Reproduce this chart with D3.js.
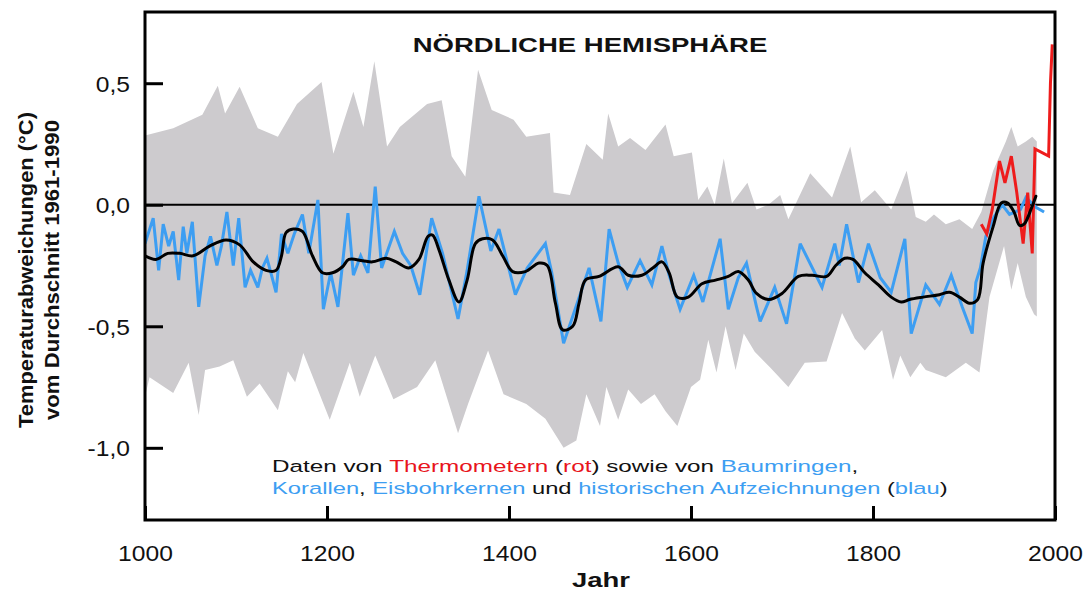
<!DOCTYPE html>
<html>
<head>
<meta charset="utf-8">
<script src="https://cdn.jsdelivr.net/npm/d3@7"></script>
<style>
  html, body { margin: 0; padding: 0; background: #fff; }
  svg { display: block; }
  text { font-family: "Liberation Sans", Arial, Helvetica, sans-serif; }
</style>
</head>
<body>
<svg id="chart" width="1091" height="590"></svg>
<script>
// ---- data ----------------------------------------------------------------
// Proxy reconstruction (tree rings, corals, ice cores, historical records)
const proxyYears = [1000,1009,1015,1020,1026,1031,1037,1042,1046,1052,1059,1066,1072,1079,1084,1090,1097,1103,1110,1116,1124,1129,1134,1139,1144,1150,1157,1164,1173,1180,1190,1196,1204,1212,1223,1229,1237,1245,1253,1260,1274,1283,1292,1302,1315,1327,1344,1354,1367,1380,1389,1407,1420,1440,1447,1460,1470,1488,1501,1510,1520,1530,1544,1557,1568,1576,1588,1603,1613,1632,1641,1652,1661,1672,1676,1692,1705,1720,1732,1744,1758,1763,1771,1784,1795,1808,1820,1835,1842,1858,1873,1886,1898,1909,1913,1918,1924,1933,1942,1950,1962,1968,1979,1988];
const proxyValues = [-0.16,-0.055,-0.27,-0.08,-0.17,-0.11,-0.31,-0.09,-0.2,-0.07,-0.42,-0.21,-0.13,-0.25,-0.17,-0.03,-0.25,-0.055,-0.34,-0.27,-0.34,-0.26,-0.22,-0.29,-0.36,-0.12,-0.2,-0.12,-0.04,-0.2,0.02,-0.43,-0.28,-0.42,-0.035,-0.29,-0.21,-0.28,0.075,-0.26,-0.11,-0.2,-0.25,-0.37,-0.055,-0.2,-0.47,-0.27,0.035,-0.19,-0.1,-0.37,-0.26,-0.16,-0.28,-0.57,-0.46,-0.26,-0.48,-0.1,-0.24,-0.34,-0.23,-0.33,-0.17,-0.29,-0.43,-0.29,-0.4,-0.14,-0.43,-0.3,-0.24,-0.42,-0.48,-0.34,-0.49,-0.16,-0.25,-0.34,-0.16,-0.25,-0.08,-0.32,-0.16,-0.3,-0.36,-0.14,-0.53,-0.33,-0.41,-0.29,-0.42,-0.53,-0.32,-0.26,-0.13,-0.05,0.0,-0.04,-0.02,0.03,-0.01,-0.03];

// Smoothed curve of the reconstruction
const smoothYears = [1000,1012,1025,1038,1053,1071,1089,1104,1119,1133,1144,1150,1155,1163,1173,1184,1195,1206,1217,1224,1239,1250,1265,1276,1290,1301,1311,1316,1323,1334,1345,1354,1363,1371,1382,1393,1404,1418,1433,1442,1451,1459,1470,1477,1484,1499,1520,1531,1546,1558,1568,1576,1585,1597,1612,1627,1641,1652,1663,1672,1685,1700,1718,1733,1749,1759,1769,1778,1791,1806,1820,1831,1840,1855,1873,1884,1895,1906,1915,1921,1932,1941,1948,1955,1961,1966,1974,1979];
const smoothValues = [-0.21,-0.225,-0.2,-0.2,-0.21,-0.17,-0.145,-0.165,-0.235,-0.27,-0.27,-0.21,-0.115,-0.1,-0.11,-0.21,-0.28,-0.28,-0.255,-0.225,-0.23,-0.235,-0.22,-0.235,-0.26,-0.225,-0.13,-0.125,-0.185,-0.31,-0.4,-0.31,-0.16,-0.14,-0.145,-0.21,-0.275,-0.275,-0.24,-0.25,-0.405,-0.515,-0.5,-0.405,-0.31,-0.295,-0.255,-0.29,-0.29,-0.26,-0.235,-0.28,-0.38,-0.38,-0.325,-0.31,-0.295,-0.275,-0.31,-0.365,-0.39,-0.365,-0.295,-0.29,-0.295,-0.25,-0.22,-0.225,-0.28,-0.33,-0.38,-0.4,-0.39,-0.38,-0.37,-0.36,-0.38,-0.405,-0.39,-0.24,-0.09,0.007,0.007,-0.03,-0.085,-0.08,-0.015,0.035];

// Instrumental (thermometer) record
const thermoYears = [1919,1925,1931,1939,1945,1952,1958,1965,1970,1975,1978,1993,1995,1997];
const thermoValues = [-0.08,-0.12,-0.02,0.18,0.09,0.2,0.05,-0.16,0.05,-0.2,0.23,0.2,0.5,0.66];

// Uncertainty range: upper and lower limits
const bandUpperYears = [1000,1031,1063,1080,1088,1104,1124,1146,1167,1194,1207,1229,1240,1252,1266,1280,1310,1326,1337,1352,1366,1381,1405,1419,1445,1449,1467,1485,1503,1509,1520,1533,1550,1572,1581,1601,1608,1618,1626,1636,1645,1662,1672,1685,1698,1707,1731,1755,1775,1787,1802,1820,1837,1847,1858,1867,1880,1895,1909,1919,1932,1946,1952,1959,1968,1975,1980];
const bandUpper = [0.285,0.315,0.37,0.49,0.375,0.485,0.315,0.28,0.415,0.505,0.21,0.465,0.32,0.59,0.24,0.32,0.415,0.43,0.2,0.115,0.555,0.39,0.35,0.28,0.295,0.05,0.04,0.25,0.185,0.375,0.24,0.275,0.225,0.33,0.2,0.215,0.02,0.075,0.0,0.19,0.006,0.09,-0.02,0.0,0.04,-0.06,0.13,0.03,0.24,0.01,0.06,-0.02,0.14,-0.05,-0.07,-0.04,-0.08,-0.06,-0.1,-0.03,0.14,0.26,0.32,0.24,0.26,0.28,0.26];
const bandLowerYears = [1000,1005,1031,1048,1059,1066,1082,1097,1112,1126,1146,1157,1165,1174,1203,1225,1236,1253,1273,1299,1319,1344,1355,1377,1394,1419,1440,1460,1474,1485,1500,1507,1520,1531,1545,1560,1572,1585,1600,1610,1619,1628,1638,1649,1658,1670,1687,1707,1725,1749,1766,1780,1791,1810,1822,1830,1841,1852,1858,1880,1902,1917,1928,1944,1952,1959,1968,1977,1980];
const bandLower = [-0.79,-0.71,-0.775,-0.65,-0.865,-0.68,-0.665,-0.64,-0.79,-0.735,-0.845,-0.685,-0.73,-0.61,-0.885,-0.65,-0.79,-0.62,-0.8,-0.75,-0.64,-0.94,-0.82,-0.6,-0.78,-0.82,-0.88,-1.0,-0.97,-0.78,-0.91,-0.75,-0.885,-0.76,-0.82,-0.78,-0.85,-0.91,-0.75,-0.72,-0.555,-0.69,-0.5,-0.68,-0.53,-0.605,-0.67,-0.75,-0.65,-0.645,-0.445,-0.55,-0.6,-0.515,-0.72,-0.62,-0.71,-0.65,-0.68,-0.71,-0.65,-0.69,-0.38,-0.17,-0.35,-0.24,-0.38,-0.45,-0.46];

// Axis ticks
const xTicks = [1000, 1200, 1400, 1600, 1800, 2000];
const yTicks = [0.5, 0.0, -0.5, -1.0];
const yTickLabels = ["0,5", "0,0", "-0,5", "-1,0"];

// ---- layout ----------------------------------------------------------------
const svg = d3.select("#chart");
const plot = { left: 145, right: 1055, top: 12, bottom: 520 };

const x = d3.scaleLinear().domain([1000, 2000]).range([plot.left, plot.right]);
const y = d3.scaleLinear().domain([-1.297, 0.793]).range([plot.bottom, plot.top]);

const zip = (xs, vs) => xs.map((yr, i) => [yr, vs[i]]);

svg.append("defs").append("clipPath").attr("id", "plotClip")
  .append("rect")
  .attr("x", plot.left).attr("y", plot.top)
  .attr("width", plot.right - plot.left).attr("height", plot.bottom - plot.top);

const g = svg.append("g").attr("clip-path", "url(#plotClip)");

// uncertainty band as a closed outline: upper limit forward, lower limit back
const bandPts = zip(bandUpperYears, bandUpper).concat(zip(bandLowerYears, bandLower).reverse());
const outline = d3.line().x(d => x(d[0])).y(d => y(d[1]));
g.append("path")
  .attr("d", outline(bandPts) + "Z")
  .attr("fill", "#cdcbce")
  .attr("stroke", "none");

// zero reference line
g.append("line")
  .attr("x1", plot.left).attr("x2", plot.right)
  .attr("y1", y(0)).attr("y2", y(0))
  .attr("stroke", "#000").attr("stroke-width", 2);

const polyline = d3.line().x(d => x(d[0])).y(d => y(d[1])).curve(d3.curveLinear);

g.append("path")
  .attr("d", polyline(zip(proxyYears, proxyValues)))
  .attr("fill", "none").attr("stroke", "#3d9ef2")
  .attr("stroke-width", 3).attr("stroke-linejoin", "miter").attr("stroke-miterlimit", 3);

g.append("path")
  .attr("d", polyline(zip(thermoYears, thermoValues)))
  .attr("fill", "none").attr("stroke", "#ee1c1c")
  .attr("stroke-width", 3).attr("stroke-linejoin", "miter").attr("stroke-miterlimit", 3);

const smooth = d3.line().x(d => x(d[0])).y(d => y(d[1])).curve(d3.curveCatmullRom.alpha(0.5));
g.append("path")
  .attr("d", smooth(zip(smoothYears, smoothValues)))
  .attr("fill", "none").attr("stroke", "#000")
  .attr("stroke-width", 3).attr("stroke-linecap", "round");

// ---- axes and frame ----------------------------------------------------------
const yPad = 15;
const yAxis = d3.axisLeft(y).tickValues(yTicks).tickSize(-18).tickFormat((d, i) => yTickLabels[i]).tickPadding(yPad);
const yAx = svg.append("g").attr("transform", `translate(${plot.left},0)`).call(yAxis);
yAx.select(".domain").remove();
yAx.selectAll(".tick line").attr("stroke", "#000").attr("stroke-width", 3);
yAx.selectAll(".tick text")
  .attr("font-size", 22).attr("fill", "#111")
  .style("font-family", '"Liberation Sans", Arial, sans-serif')
  .attr("dy", "0.36em")
  // tick labels are drawn slightly wide, stretched from their right edge
  .attr("transform", `translate(${-yPad},0) scale(1.12,1) translate(${yPad},0)`);

const xAxis = d3.axisBottom(x).tickValues(xTicks).tickSize(-14).tickFormat(d3.format("d")).tickPadding(25);
const xAx = svg.append("g").attr("transform", `translate(0,${plot.bottom})`).call(xAxis);
xAx.select(".domain").remove();
xAx.selectAll(".tick line").attr("stroke", "#000").attr("stroke-width", 3);
xAx.selectAll(".tick text")
  .attr("font-size", 22).attr("fill", "#111")
  .style("font-family", '"Liberation Sans", Arial, sans-serif')
  .attr("dy", "0.71em")
  .attr("transform", "scale(1.12,1)");

svg.append("rect")
  .attr("x", plot.left).attr("y", plot.top)
  .attr("width", plot.right - plot.left).attr("height", plot.bottom - plot.top)
  .attr("fill", "none").attr("stroke", "#000").attr("stroke-width", 3);

// stretch a text element horizontally about its anchor to a given width
function fitWidth(sel, width, ax, ay) {
  const w = sel.node().getComputedTextLength();
  const sx = width / w;
  sel.attr("transform", `translate(${ax},${ay}) scale(${sx},1) translate(${-ax},${-ay})`);
}

// ---- titles and annotation -----------------------------------------------------
const title = svg.append("text")
  .attr("x", 590).attr("y", 52).attr("text-anchor", "middle")
  .attr("font-size", 21).attr("font-weight", "bold").attr("fill", "#111")
  .text("NÖRDLICHE HEMISPHÄRE");
fitWidth(title, 355, 590, 52);

const xLabel = svg.append("text")
  .attr("x", 601).attr("y", 587).attr("text-anchor", "middle")
  .attr("font-size", 20).attr("font-weight", "bold").attr("fill", "#111")
  .text("Jahr");
fitWidth(xLabel, 58, 601, 587);

const yLab = svg.append("g").attr("transform", "translate(0,270) rotate(-90)");
const yl1 = yLab.append("text")
  .attr("x", 0).attr("y", 33).attr("text-anchor", "middle")
  .attr("font-size", 20).attr("font-weight", "bold").attr("fill", "#111")
  .text("Temperaturabweichungen (°C)");
fitWidth(yl1, 316, 0, 33);
const yl2 = yLab.append("text")
  .attr("x", 0).attr("y", 59).attr("text-anchor", "middle")
  .attr("font-size", 20).attr("font-weight", "bold").attr("fill", "#111")
  .text("vom Durchschnitt 1961-1990");
fitWidth(yl2, 300, 0, 59);

const black = "#111", red = "#e8141c", blue = "#3d9ef2";
const noteLines = [
  [["Daten von ", black], ["Thermometern", red], [" (", black], ["rot", red], [") sowie von ", black], ["Baumringen", blue], [",", black]],
  [["Korallen", blue], [", ", black], ["Eisbohrkernen", blue], [" und ", black], ["historischen Aufzeichnungen", blue], [" (", black], ["blau", blue], [")", black]]
];
const noteWidths = [586, 676];
noteLines.forEach((parts, i) => {
  const yy = 472 + i * 22;
  const t = svg.append("text")
    .attr("x", 272).attr("y", yy)
    .attr("font-size", 17);
  parts.forEach(([s, c]) => t.append("tspan").attr("fill", c).text(s));
  fitWidth(t, noteWidths[i], 272, yy);
});
</script>
</body>
</html>
